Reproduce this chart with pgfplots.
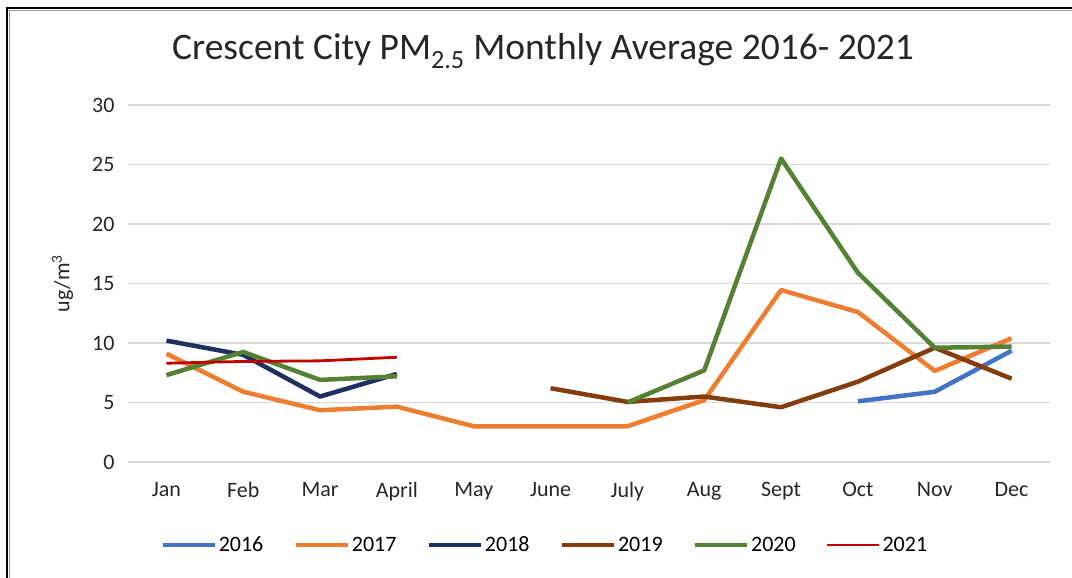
\documentclass[border=0pt]{standalone}
\usepackage{fontspec}
\setmainfont{Carlito}
\usepackage{pgfplots}
\pgfplotsset{compat=1.18}
\definecolor{c16}{HTML}{4472C4}
\definecolor{c17}{HTML}{ED7D31}
\definecolor{c18}{HTML}{1F2F5F}
\definecolor{c19}{HTML}{843C0C}
\definecolor{c20}{HTML}{548235}
\definecolor{c21}{HTML}{C00000}
\definecolor{gridc}{HTML}{D9D9D9}
\begin{document}
\begin{tikzpicture}[x=1pt,y=1pt]
\path[use as bounding box] (0,0) rectangle (1072,578);
\begin{axis}[
  at={(128pt,116pt)}, anchor=south west,
  scale only axis, width=922pt, height=357pt,
  xmin=-0.5, xmax=11.5, ymin=0, ymax=30,
  xtick={0,...,11},
  xticklabels={Jan,Feb,Mar,April,May,June,July,Aug,Sept,Oct,Nov,Dec},
  ytick={0,5,...,30},
  ymajorgrids, grid style={gridc, line width=1.5pt},
  axis line style={draw=none},
  major tick length=0pt,
  tick label style={font=\fontsize{22}{24}\selectfont, text=black!85},
  xticklabel style={yshift=-17pt},
  yticklabel style={xshift=-10pt},
  /pgf/number format/assume math mode=true,
  ylabel={ug/m\textsuperscript{3}},
  ylabel style={font=\fontsize{22}{24}\selectfont, text=black!85, at={(axis description cs:-0.071,0.5)}, anchor=center},
  unbounded coords=jump,
  legend columns=6,
  legend style={at={(0.452,-0.2325)}, anchor=center, draw=none, font=\fontsize{22}{24}\selectfont, /tikz/every even column/.append style={column sep=28pt}},
  legend image code/.code={\draw[#1] (0pt,0pt) -- (52pt,0pt);},
  every axis plot/.append style={line width=4.5pt, line join=round},
]
\addplot[c16] coordinates {(9,5.1) (10,5.9) (11,9.35)};
\addlegendentry{2016}
\addplot[c17] coordinates {(0,9.1) (1,5.9) (2,4.35) (3,4.65) (4,3.0) (5,3.0) (6,3.0) (7,5.2) (8,14.45) (9,12.6) (10,7.65) (11,10.4)};
\addlegendentry{2017}
\addplot[c18] coordinates {(0,10.2) (1,9.0) (2,5.5) (3,7.4)};
\addlegendentry{2018}
\addplot[c19] coordinates {(5,6.2) (6,5.05) (7,5.5) (8,4.6) (9,6.75) (10,9.6) (11,7.0)};
\addlegendentry{2019}
\addplot[c20] coordinates {(0,7.3) (1,9.25) (2,6.9) (3,7.2) (4,nan) (5,nan) (6,5.0) (7,7.7) (8,25.5) (9,15.9) (10,9.6) (11,9.7)};
\addlegendentry{2020}
\addplot[c21, line width=2.8pt] coordinates {(0,8.3) (1,8.45) (2,8.5) (3,8.8)};
\addlegendentry{2021}
\end{axis}
\node[font=\fontsize{37.5}{40}\selectfont, text=black!85] at (543,527) {Crescent City PM\textsubscript{2.5} Monthly Average 2016- 2021};
\draw[line width=2.5pt, black] (7,0) -- (7,570) -- (1072,570);
\draw[line width=1pt, black!40] (9.5,0) -- (9.5,567.5) -- (1072,567.5);
\end{tikzpicture}
\end{document}
